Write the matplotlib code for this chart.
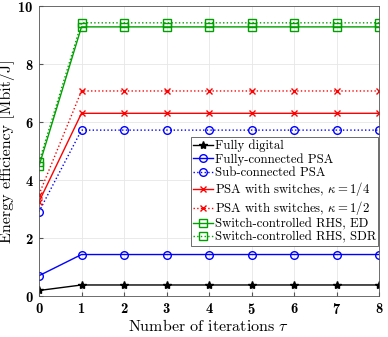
import numpy as np
import matplotlib.pyplot as plt

# energy efficiency vs number of iterations
iters = [0, 1, 2, 3, 4, 5, 6, 7, 8]
fully_digital = [0.19, 0.38, 0.38, 0.38, 0.38, 0.38, 0.38, 0.38, 0.38]
fully_psa = [0.70, 1.43, 1.43, 1.43, 1.43, 1.43, 1.43, 1.43, 1.43]
sub_psa = [2.91, 5.72, 5.72, 5.72, 5.72, 5.72, 5.72, 5.72, 5.72]
psa_sw_14 = [3.25, 6.30, 6.30, 6.30, 6.30, 6.30, 6.30, 6.30, 6.30]
psa_sw_12 = [3.50, 7.07, 7.07, 7.07, 7.07, 7.07, 7.07, 7.07, 7.07]
rhs_ed = [4.48, 9.28, 9.28, 9.28, 9.28, 9.28, 9.28, 9.28, 9.28]
rhs_sdr = [4.62, 9.42, 9.42, 9.42, 9.42, 9.42, 9.42, 9.42, 9.42]

plt.rcParams['font.family'] = 'cmr10'
plt.rcParams['mathtext.fontset'] = 'cm'
plt.rcParams['axes.formatter.use_mathtext'] = True

fig = plt.figure(figsize=(3.88, 3.37), dpi=100)
ax = fig.add_axes([39/388, 1-296/337, 340/388, 290/337])

lw = 1.0
ax.plot(iters, fully_digital, color='black', ls='-', marker='*', ms=6, lw=lw, label='Fully digital')
ax.plot(iters, fully_psa, color='blue', ls='-', marker='o', ms=5.5, mfc='none', lw=lw, label='Fully-connected PSA')
ax.plot(iters, sub_psa, color='blue', ls=':', marker='o', ms=5.5, mfc='none', lw=lw, label='Sub-connected PSA')
ax.plot(iters, psa_sw_14, color='red', ls='-', marker='x', ms=4.5, lw=lw, label=r'PSA with switches, $\kappa=1/4$')
ax.plot(iters, psa_sw_12, color='red', ls=':', marker='x', ms=4.5, lw=lw, label=r'PSA with switches, $\kappa=1/2$')
ax.plot(iters, rhs_ed, color='#00a000', ls='-', marker='s', ms=5.5, mfc='none', lw=lw, label='Switch-controlled RHS, ED')
ax.plot(iters, rhs_sdr, color='#00a000', ls=':', marker='s', ms=5.5, mfc='none', lw=lw, label='Switch-controlled RHS, SDR')

ax.set_xlim(0, 8)
ax.set_ylim(0, 10)
ax.set_xticks(range(9))
ax.set_yticks([0, 2, 4, 6, 8, 10])
ax.grid(True, color='#e6e6e6', lw=0.6)
ax.set_axisbelow(True)
for s in ax.spines.values():
    s.set_color('#555555')
    s.set_linewidth(0.6)
ax.tick_params(direction='in', length=3, color='#555555', labelsize=10.5, pad=4)
for lab in ax.get_xticklabels() + ax.get_yticklabels():
    lab.set_fontfamily('cmb10')

ax.set_xlabel(r'Number of iterations $\tau$', fontsize=11.5, labelpad=1)
ax.set_ylabel('Energy efficiency [Mbit/J]', fontsize=11.5, labelpad=2)

leg = ax.legend(loc='lower right', bbox_to_anchor=(1.0, 0.17), fontsize=9.2, frameon=True,
                fancybox=False, edgecolor='#555555', framealpha=1, handlelength=1.5,
                handletextpad=0.15, labelspacing=0.08, borderpad=0.2, borderaxespad=0.05)
leg.get_frame().set_linewidth(0.6)

fig.savefig('out.png', dpi=100)
